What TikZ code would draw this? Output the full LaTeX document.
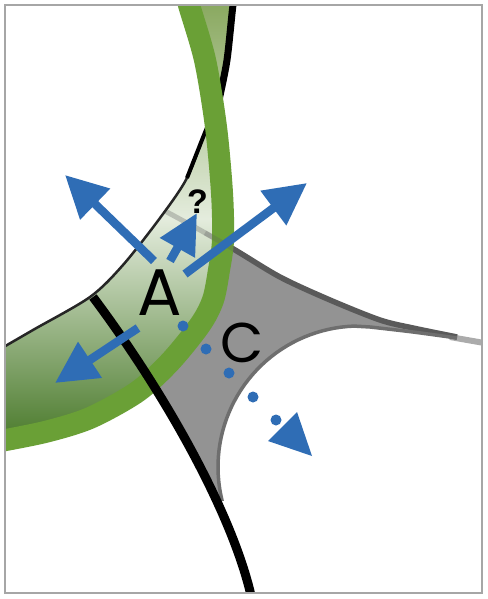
\documentclass[tikz,border=0pt]{standalone}
\usepackage{fontspec}
\newfontfamily\geofont{Poppins}
\newfontfamily\qfont{Liberation Sans}
\usetikzlibrary{arrows.meta}
\definecolor{bl}{HTML}{2F6DB5}
\definecolor{gband}{HTML}{6AA036}
\definecolor{gtop}{HTML}{86A65B}
\definecolor{gmid}{HTML}{E4ECDD}
\definecolor{gbot}{HTML}{4A7A2B}
\definecolor{cfill}{HTML}{939393}
\definecolor{cedge}{HTML}{5A5A5A}
\definecolor{cedgeb}{HTML}{6E6E6E}
\definecolor{ctail}{HTML}{ABABAB}
\definecolor{framec}{HTML}{A6A6A6}
\begin{document}
\begin{tikzpicture}[x=1pt,y=-1pt,
  bluearrow/.style={draw=bl, line width=8.5pt, -{Triangle[length=42pt,width=41pt]}},
  smallarrow/.style={draw=bl, line width=8.5pt, -{Triangle[length=40pt,width=38pt]}},
  bdot/.style={fill=bl},
  lbl/.style={inner sep=0pt, anchor=base}]
\useasboundingbox (0,0) rectangle (487,599);
\fill[white] (0,0) rectangle (487,599);
\begin{scope}
\clip (5,5) rectangle (482,593);
% gray Plateau region C
\fill[cfill] plot[smooth] coordinates {(165,211) (230,247) (280,277) (330,300) (380,320) (413,328) (457,337)}
  -- plot[smooth] coordinates {(457,338) (413,332) (370,327)}
  -- plot[domain=268:166,samples=40] ({359+141*cos(\x)},{467+141*sin(\x)})
  -- (221,501) -- (196,457) -- (148,377) -- (93,297)
  -- (123,265) -- cycle;
\draw[ctail, line width=6pt] (450,337) -- (490,344);
\draw[cedge, line width=5.5pt] plot[smooth] coordinates {(165,211) (230,247) (280,277) (330,300) (380,320) (413,328) (457,337)};
\draw[cedgeb, line width=3.5pt] plot[domain=166:268,samples=40] ({359+141*cos(\x)},{467+141*sin(\x)})
  -- plot[smooth] coordinates {(370,327) (413,332) (457,338)};
% green region
\path[top color=gtop, bottom color=gbot, middle color=gmid]
  plot[smooth] coordinates {(187,-5) (189,5) (205,60) (216,127) (222,193) (223,240) (219,270) (213,300) (200,325) (170,362) (137,392) (90,418) (45,432) (-5,442)}
  -- (-5,352)
  -- plot[smooth] coordinates {(-5,352) (33,330) (90,297) (123,265) (160,218) (187,178) (206,130) (219,100) (227,60) (233,5) (236,-5)}
  -- cycle;
% faint edge of C under the green
\draw[cedge, line width=5pt, opacity=0.3] plot[smooth] coordinates {(165,211) (200,230) (230,247) (250,259)};
% black arc (upper-left circle)
\draw[black!85, line width=2.5pt] plot[smooth] coordinates {(-5,352) (33,330) (90,297) (123,265) (160,218) (187,178) (206,130) (219,100) (227,60) (233,5) (236,-5)};
\draw[black, line width=4pt] plot[smooth] coordinates {(187,178) (206,130) (219,100)};
\draw[black, line width=7pt] plot[smooth] coordinates {(219,100) (227,60) (233,5) (236,-5)};
% green band
\draw[gband, line width=22pt] plot[smooth] coordinates {(187,-5) (189,5) (205,60) (216,127) (222,193) (223,240) (219,270) (213,300) (200,325) (170,362) (137,392) (90,418) (45,432) (-5,442)};
\draw[cedge, line width=5pt, opacity=0.25] plot[smooth] coordinates {(205,233) (230,247) (240,253)};
% black thick line
\draw[black, line width=9pt] (93,297) .. controls (170,400) and (235,520) .. (252,600);
\end{scope}
\draw[framec, line width=2pt] (5,5) rectangle (482,593);
% arrows
\coordinate (a1s) at (154,261); \coordinate (a1t) at (65,175);
\coordinate (a2s) at (185,274); \coordinate (a2t) at (307,183);
\coordinate (a3s) at (170,261); \coordinate (a3t) at (197,213);
\coordinate (a4s) at (138,328); \coordinate (a4t) at (55,383);
\draw[bluearrow] (a1s) -- (a1t);
\draw[bluearrow] (a2s) -- (a2t);
\draw[smallarrow] (a3s) -- (a3t);
\draw[bluearrow] (a4s) -- (a4t);
% dotted path
\foreach \p in {(183,326),(206,349),(229,373),(253,397),(276,420)}
  \fill[bdot] \p circle (5.5pt);
\fill[bl] (297,412) -- (268,441) -- (312,456) -- cycle;
% labels
\node[lbl] (A) at (159.5,315) {\geofont\fontsize{66}{66}\selectfont A};
\node[lbl] (C) at (242,362) {\geofont\fontsize{56}{56}\selectfont C};
\node[lbl] (q) at (197.5,213) {\qfont\bfseries\fontsize{34}{34}\selectfont ?};
\end{tikzpicture}
\end{document}
